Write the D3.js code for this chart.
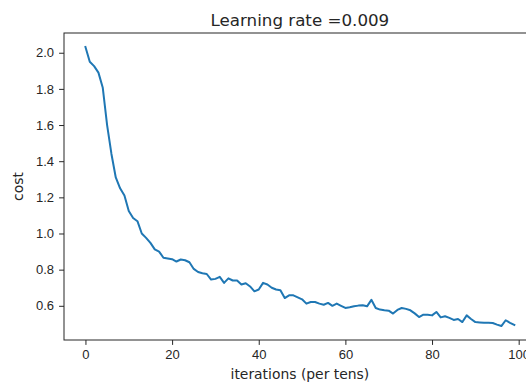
<!DOCTYPE html>
<html><head><meta charset="utf-8">
<script src="https://cdn.jsdelivr.net/npm/d3@7"></script>
<style>body{margin:0;background:#fff;overflow:hidden;} svg{display:block;}</style>
</head><body>
<script>
const titleText = "Learning rate =0.009";
const xLabel = "iterations (per tens)";
const yLabel = "cost";
const xTicks = [0, 20, 40, 60, 80, 100];
const yTicks = [0.6, 0.8, 1.0, 1.2, 1.4, 1.6, 1.8, 2.0];
const costs = [
  2.032, 1.950, 1.926, 1.890, 1.806, 1.600, 1.440, 1.310, 1.250, 1.210,
  1.125, 1.086, 1.068, 1.000, 0.976, 0.948, 0.912, 0.900, 0.866, 0.862,
  0.858, 0.845, 0.856, 0.852, 0.841, 0.804, 0.787, 0.780, 0.776, 0.745,
  0.749, 0.760, 0.727, 0.752, 0.740, 0.740, 0.718, 0.725, 0.707, 0.680,
  0.690, 0.727, 0.718, 0.700, 0.690, 0.686, 0.643, 0.658, 0.658, 0.647,
  0.636, 0.612, 0.621, 0.621, 0.612, 0.606, 0.616, 0.600, 0.612, 0.600,
  0.588, 0.592, 0.597, 0.601, 0.603, 0.597, 0.633, 0.588, 0.579, 0.575,
  0.573, 0.557, 0.577, 0.588, 0.583, 0.575, 0.558, 0.538, 0.551, 0.551,
  0.547, 0.566, 0.536, 0.542, 0.533, 0.522, 0.527, 0.510, 0.547, 0.527,
  0.510, 0.508, 0.506, 0.506, 0.505, 0.496, 0.488, 0.520, 0.506, 0.494
];

(function () {
const W = 526, H = 385;
const mLeft = 64, mRight = 535.8, mTop = 33, mBottom = 340;
const svg = d3.select("body").append("svg").attr("width", W).attr("height", H)
  .style("font-family", "'DejaVu Sans', sans-serif");

const n = costs.length;
const xPad = (n - 1) * 0.05;
const x = d3.scaleLinear().domain([-xPad, (n - 1) + xPad]).range([mLeft, mRight]);
const [mn, mx] = d3.extent(costs);
const yPad = (mx - mn) * 0.05;
const y = d3.scaleLinear().domain([mn - yPad, mx + yPad]).range([mBottom, mTop]);

const ink = "#262626";

const xAxis = svg.append("g").attr("transform", `translate(0,${mBottom})`)
  .call(d3.axisBottom(x).tickValues(xTicks).tickFormat(d3.format("d")).tickSize(4.9).tickPadding(5));
xAxis.select(".domain").remove();
xAxis.selectAll("line").attr("stroke", ink).attr("stroke-width", 1);
xAxis.selectAll("text").attr("fill", ink).style("font-size", "13px");

const yAxis = svg.append("g").attr("transform", `translate(${mLeft},0)`)
  .call(d3.axisLeft(y).tickValues(yTicks).tickFormat(d3.format(".1f")).tickSize(4.9).tickPadding(5));
yAxis.select(".domain").remove();
yAxis.selectAll("line").attr("stroke", ink).attr("stroke-width", 1);
yAxis.selectAll("text").attr("fill", ink).style("font-size", "13px");

const line = d3.line().x((d, i) => x(i)).y(d => y(d));
svg.append("path").datum(costs).attr("d", line)
  .attr("fill", "none").attr("stroke", "#1f77b4").attr("stroke-width", 2)
  .attr("stroke-linejoin", "round").attr("stroke-linecap", "square");

svg.append("rect").attr("x", mLeft).attr("y", mTop)
  .attr("width", mRight - mLeft).attr("height", mBottom - mTop)
  .attr("fill", "none").attr("stroke", ink).attr("stroke-width", 1);

svg.append("text").attr("x", (mLeft + mRight) / 2).attr("y", 25.5)
  .attr("text-anchor", "middle").attr("fill", ink).style("font-size", "16.7px").text(titleText);
svg.append("text").attr("x", (mLeft + mRight) / 2).attr("y", 378.5)
  .attr("text-anchor", "middle").attr("fill", ink).style("font-size", "13.9px").text(xLabel);
svg.append("text").attr("transform", `translate(23,${(mTop + mBottom) / 2}) rotate(-90)`)
  .attr("text-anchor", "middle").attr("fill", ink).style("font-size", "13.9px").text(yLabel);
})();
</script>
</body></html>
